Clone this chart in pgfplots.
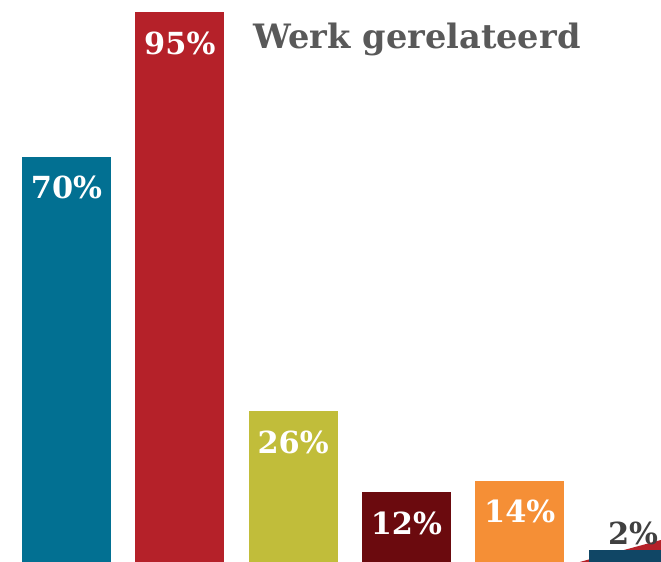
\documentclass[border=0pt]{standalone}
\usepackage{fontspec}
\setmainfont{DejaVu Serif}
\usepackage{pgfplots}
\pgfplotsset{compat=1.18}
\definecolor{cA}{RGB}{2,112,146}
\definecolor{cB}{RGB}{181,33,41}
\definecolor{cC}{RGB}{193,189,58}
\definecolor{cD}{RGB}{107,10,14}
\definecolor{cE}{RGB}{245,143,54}
\definecolor{cF}{RGB}{16,70,101}
\definecolor{titlegray}{RGB}{89,89,89}
\definecolor{lblgray}{RGB}{64,64,64}
\begin{document}
\begin{tikzpicture}
\begin{axis}[
  name=ax,
  scale only axis,
  width=330.5pt, height=281pt,
  xmin=-0.587, xmax=5.247,
  ymin=0, ymax=97.07,
  hide axis,
  ybar, bar width=0.7855, bar shift=0pt,
  clip=true,
  nodes near coords={\pgfmathprintnumber[assume math mode=true]{\pgfplotspointmeta}\%},
  every node near coord/.append style={font=\bfseries\fontsize{15.2pt}{15.2pt}\selectfont, text=white, anchor=center, yshift=-15.5pt},
]
\fill[cB] (axis cs:4.53,0) -- (axis cs:5.247,3.8) -- (axis cs:5.247,0) -- cycle;
\addplot[fill=cA, draw=none] coordinates {(0,70)};
\addplot[fill=cB, draw=none] coordinates {(1,95)};
\addplot[fill=cC, draw=none] coordinates {(2,26)};
\addplot[fill=cD, draw=none] coordinates {(3,12)};
\addplot[fill=cE, draw=none] coordinates {(4,14)};
\addplot[fill=cF, draw=none, every node near coord/.append style={text=lblgray, yshift=24pt}] coordinates {(5,2)};
\node[font=\bfseries\fontsize{16.8pt}{16.8pt}\selectfont, text=titlegray] at (axis cs:3.094,90.2) {Werk gerelateerd};
\end{axis}
\pgfresetboundingbox
\path (ax.south west) rectangle (ax.north east);
\end{tikzpicture}
\end{document}
